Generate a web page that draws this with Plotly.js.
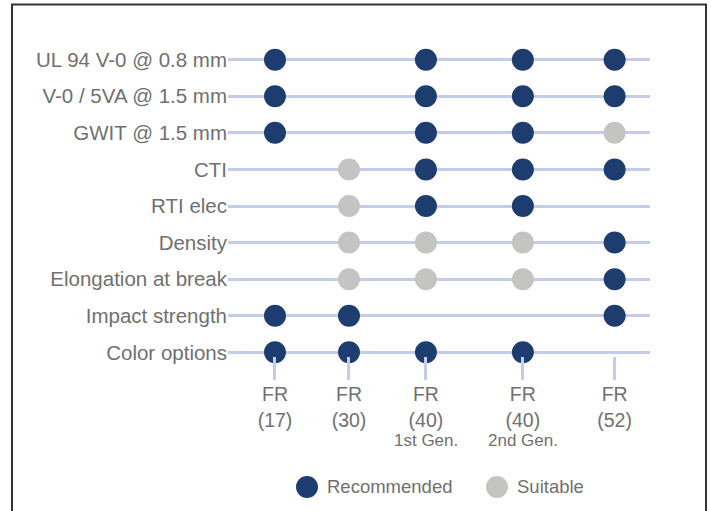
<!DOCTYPE html>
<html><head><meta charset="utf-8">
<script src="https://cdn.plot.ly/plotly-3.0.1.min.js"></script>
<style>html,body{margin:0;padding:0;background:#fff}#chart{width:711px;height:511px}</style>
</head><body><div id="chart"></div>
<script>
// ---- DATA ----
const properties = ["UL 94 V-0 @ 0.8 mm", "V-0 / 5VA @ 1.5 mm", "GWIT @ 1.5 mm", "CTI", "RTI elec",
  "Density", "Elongation at break", "Impact strength", "Color options"];
const gradeNames = ["FR", "FR", "FR", "FR", "FR"];
const gradeCodes = ["(17)", "(30)", "(40)", "(40)", "(52)"];
const gradeNotes = ["", "", "1st Gen.", "2nd Gen.", ""];
// R = Recommended, S = Suitable, "" = not rated
const ul94Rating       = ["R", "",  "R", "R", "R"];
const v0Rating         = ["R", "",  "R", "R", "R"];
const gwitRating       = ["R", "",  "R", "R", "S"];
const ctiRating        = ["",  "S", "R", "R", "R"];
const rtiRating        = ["",  "S", "R", "R", ""];
const densityRating    = ["",  "S", "S", "S", "R"];
const elongationRating = ["",  "S", "S", "S", "R"];
const impactRating     = ["R", "R", "",  "",  "R"];
const colorRating      = ["R", "R", "R", "R", ""];
const ratingRows = [ul94Rating, v0Rating, gwitRating, ctiRating, rtiRating,
  densityRating, elongationRating, impactRating, colorRating];
const legendCodes = ["R", "S"];
const legendNames = ["Recommended", "Suitable"];

// ---- LAYOUT / STYLE ----
const W = 711, H = 511;
const M = {l: 228, r: 61, t: 56, b: 155};
const colPos = [0, 1, 2.04, 3.35, 4.59];          // column centres on x axis
const xRange = [-0.635, 5.068];
const yPad = 0.1;
const colors = {R: "#1d3d6e", S: "#c4c4c2"};
const textCol = "#707070";
const lineCol = "#c4cce9";
const FONT = "'Liberation Sans', Arial, Helvetica, sans-serif";

const pw = W - M.l - M.r, ph = H - M.t - M.b;
const px2x = p => (p - M.l) / pw;
const px2y = p => (H - M.b - p) / ph;

const tickText = gradeNames.map((n, i) => n + "<br>" + gradeCodes[i]);

const traces = legendCodes.map((code, k) => {
  const xs = [], ys = [];
  ratingRows.forEach((row, r) => row.forEach((v, c) => { if (v === code) { xs.push(colPos[c]); ys.push(r); } }));
  return {
    type: "scatter", mode: "markers", name: legendNames[k], x: xs, y: ys,
    marker: {size: 22, color: colors[code], line: {width: 0}},
    cliponaxis: false, hoverinfo: "skip", showlegend: false
  };
});

const legendDotPx = [307, 497];
const legendTextPx = [325, 515];
const legendYPx = 487;
const notesYPx = 441;
const shapes = [];
const annotations = [];
legendCodes.forEach((code, k) => {
  shapes.push({type: "circle", xref: "paper", yref: "paper", xsizemode: "pixel", ysizemode: "pixel",
    xanchor: px2x(legendDotPx[k]), yanchor: px2y(legendYPx), x0: -11, x1: 11, y0: -11, y1: 11,
    fillcolor: colors[code], line: {width: 0}});
  annotations.push({xref: "paper", yref: "paper", x: px2x(legendTextPx[k]), y: px2y(legendYPx),
    xanchor: "left", yanchor: "middle", showarrow: false, text: legendNames[k],
    font: {family: FONT, size: 18.5, color: textCol}});
});
gradeNotes.forEach((note, i) => {
  if (!note) return;
  annotations.push({xref: "x", yref: "paper", x: colPos[i], y: px2y(notesYPx),
    xanchor: "center", yanchor: "middle", showarrow: false, text: note,
    font: {family: FONT, size: 17, color: textCol}});
});
// frame
shapes.push({type: "rect", xref: "paper", yref: "paper", x0: px2x(12), x1: px2x(706),
  y0: px2y(540), y1: px2y(4.5), line: {color: "#333", width: 2}, fillcolor: "rgba(0,0,0,0)", layer: "above"});

const layout = {
  width: W, height: H, margin: M, paper_bgcolor: "#fff", plot_bgcolor: "#fff",
  font: {family: FONT, color: textCol},
  xaxis: {range: xRange, showgrid: false, zeroline: false, showline: false,
    tickmode: "array", tickvals: colPos, ticktext: tickText,
    ticks: "outside", ticklen: 23, tickwidth: 3, tickcolor: lineCol, ticklabelstandoff: -2,
    tickfont: {family: FONT, size: 19.5, color: textCol}, fixedrange: true},
  yaxis: {range: [properties.length - 1 + yPad, -yPad], showgrid: true, gridcolor: lineCol, gridwidth: 3,
    zeroline: false, showline: false, tickmode: "array",
    tickvals: properties.map((_, i) => i), ticktext: properties, ticks: "",
    tickfont: {family: FONT, size: 20.5, color: textCol}, fixedrange: true},
  shapes: shapes, annotations: annotations, showlegend: false
};

Plotly.newPlot("chart", traces, layout, {displayModeBar: false, staticPlot: true});
</script></body></html>
